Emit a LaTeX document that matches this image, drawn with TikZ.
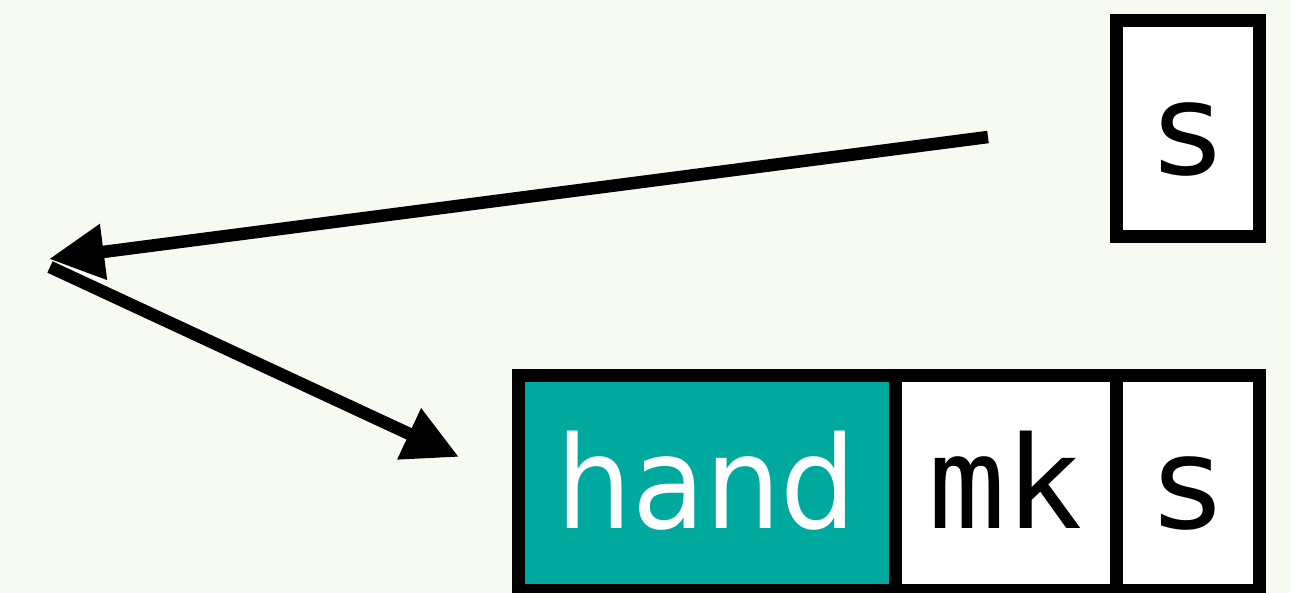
\documentclass[tikz,border=0pt]{standalone}
\usepackage{fontspec}
\setmainfont{DejaVu Sans}
\setmonofont{DejaVu Sans Mono}
\newfontfamily\narrowfont[FakeStretch=0.93]{DejaVu Sans}
\usetikzlibrary{arrows.meta, positioning}

\definecolor{paper}{HTML}{F7FAF0}
\definecolor{teal}{HTML}{00A99D}

\tikzset{
  cell/.style={draw, line width=0.26cm, fill=white, inner sep=0pt, outer sep=0pt,
    minimum height=4.3cm, text height=1.84cm, text depth=0pt,
    font=\fontsize{73}{80}\selectfont},
  ptr/.style={line width=0.25cm, -{Triangle[length=1.1cm, width=1.06cm]}}
}

\begin{document}
\begin{tikzpicture}
            \fill[paper] (0,0) rectangle (25.82,11.86);
            \useasboundingbox (0,0) rectangle (25.82,11.86);
            \node[cell, fill=teal, text=white, minimum width=7.54cm, font=\fontsize{73}{80}\narrowfont] (hand) at (14.13, 2.2) {hand};
            \node[cell, minimum width=4.43cm, font=\fontsize{73}{80}\selectfont\ttfamily] (mk) [right=0cm of hand] {mk};
            \node[cell, minimum width=2.86cm] (sbot) [right=0cm of mk] {s};
            \node[cell, minimum width=2.86cm, minimum height=4.32cm] (stop) [above=2.78cm of sbot] {s};
            \coordinate (from) at (19.76, 9.12);
            \coordinate (bend) at (0.98, 6.68);
            \coordinate (turn) at (1.0, 6.52);
            \coordinate (to) at (9.18, 2.72);
            \draw[ptr] (from) -- (bend);
            \draw[ptr] (turn) -- (to);
        \end{tikzpicture}
\end{document}
